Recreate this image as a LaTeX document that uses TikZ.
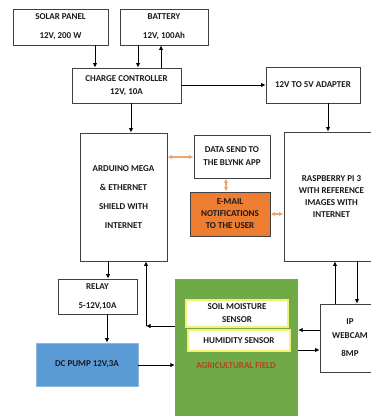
\documentclass[tikz,border=0pt]{standalone}
\usepackage{fontspec}
\setmainfont{Carlito}[BoldFont={Carlito Bold}]
\usepackage{xcolor}
\usetikzlibrary{positioning, arrows.meta}
\definecolor{LineA}{HTML}{404040}
\definecolor{OrangeA}{HTML}{ED7D31}
\definecolor{OrangeL}{HTML}{F2A46C}
\definecolor{BlueA}{HTML}{5B9BD5}
\definecolor{BlueE}{HTML}{8FB8E0}
\definecolor{GreenA}{HTML}{6FAA46}
\definecolor{YellowA}{HTML}{F0F07A}
\definecolor{RustA}{HTML}{B1461B}
\definecolor{TextA}{HTML}{1A1A1A}
\tikzset{
  blk/.style={draw=LineA, fill=white, line width=0.8pt, align=center,
              font=\fontsize{9}{12}\selectfont\bfseries, text=TextA,
              inner sep=0pt},
  mail/.style={blk, fill=OrangeA},
  pump/.style={blk, fill=BlueA, draw=BlueE},
  field/.style={fill=GreenA, inner sep=0pt},
  sens/.style={blk, draw=YellowA, line width=1.6pt},
  arr/.style={-{Latex[length=4.5pt,width=4.5pt]}, line width=1pt, draw=black},
  oarr/.style={{Latex[length=4.5pt,width=4.5pt]}-{Latex[length=4.5pt,width=4.5pt]},
               line width=1.2pt, draw=OrangeL},
}

\begin{document}
\begin{tikzpicture}[x=1pt,y=-1pt]
  \path[use as bounding box, clip] (0,0) rectangle (371,416);
  % power side
  \node[blk, minimum width=95pt, minimum height=36pt] (solar) at (60.5,27)
       {SOLAR PANEL\\[7pt]12V, 200 W};
  \node[blk, minimum width=88pt, minimum height=36pt] (batt) at (164,27)
       {BATTERY\\[7pt]12V, 100Ah};
  \node[blk, minimum width=109pt, minimum height=35pt] (cc) at (126.5,85.5)
       {CHARGE CONTROLLER\\[1pt]12V, 10A};
  \node[blk, minimum width=94pt, minimum height=36pt] (adapt) at (313,85)
       {12V TO 5V ADAPTER};
  % controllers
  \node[blk, minimum width=87pt, minimum height=128pt] (ard) at (123.5,197)
       {ARDUINO MEGA\\[7pt]\& ETHERNET\\[7pt]SHIELD WITH\\[7pt]INTERNET};
  \node[blk, minimum width=76pt, minimum height=43pt] (blynk) at (232,156.5)
       {DATA SEND TO\\[1pt]THE BLYNK APP};
  \node[mail, minimum width=80pt, minimum height=44pt] (email) at (230,214)
       {E-MAIL\\NOTIFICATIONS\\TO THE USER};
  \node[blk, minimum width=95pt, minimum height=129pt] (rpi) at (331.5,196.5)
       {RASPBERRY PI 3\\WITH REFERENCE\\IMAGES WITH\\INTERNET};
  \node[blk, minimum width=60pt, minimum height=68pt] (cam) at (350,338)
       {IP\\[2pt]WEBCAM\\[6pt]8MP};
  % field side
  \node[blk, minimum width=79pt, minimum height=35pt] (relay) at (97.5,296.5)
       {RELAY\\[7pt]5-12V,10A};
  \node[pump, minimum width=102pt, minimum height=43pt] (dcpump) at (87,364.5)
       {DC PUMP 12V,3A};
  \node[field, minimum width=123pt, minimum height=150pt] (agri) at (236.5,354) {};
  \node[sens, minimum width=102pt, minimum height=27pt] (soil) at (237,313.5)
       {SOIL MOISTURE\\[1pt]SENSOR};
  \node[sens, minimum width=102pt, minimum height=21pt] (hum) at (239,340.5)
       {HUMIDITY SENSOR};
  \node[font=\fontsize{9}{10}\selectfont\bfseries, text=RustA] (agrilbl)
       at (236,366) {AGRICULTURAL FIELD};
  % connections
  \draw[arr] (solar.south -| 95,0) -- (cc.north -| 95,0);
  \draw[arr] (batt.south -| 138,0) -- (cc.north -| 138,0);
  \draw[arr] (cc.north -| 161,0) -- (batt.south -| 161,0);
  \draw[arr] (cc.east |- 0,85) -- (adapt.west |- 0,85);
  \draw[arr] (cc.south -| 131,0) -- (ard.north -| 131,0);
  \draw[arr] (adapt.south -| 328,0) -- (rpi.north -| 328,0);
  \draw[oarr] (ard.east |- 0,157) -- (blynk.west |- 0,157);
  \draw[oarr] (blynk.south -| 226,0) -- (email.north -| 226,0);
  \draw[oarr] (email.east |- 0,214) -- (rpi.west |- 0,214);
  \draw[arr] (ard.south -| 108,0) -- (relay.north -| 108,0);
  \coordinate (fb) at (146,326);
  \draw[arr] (agri.west |- fb) -- (fb);
  \draw[arr] (fb) -- (ard.south -| fb);
  \draw[arr] (relay.south -| 107,0) -- (dcpump.north -| 107,0);
  \draw[arr] (dcpump.east |- 0,365) -- (agri.west |- 0,365);
  \draw[arr] (cam.west |- 0,330) -- (agri.east |- 0,330);
  \draw[arr] (agri.east |- 0,350) -- (cam.west |- 0,350);
  \draw[arr] (cam.north -| 335,0) -- (rpi.south -| 335,0);
  \draw[arr] (rpi.south -| 357,0) -- (cam.north -| 357,0);
\end{tikzpicture}
\end{document}
